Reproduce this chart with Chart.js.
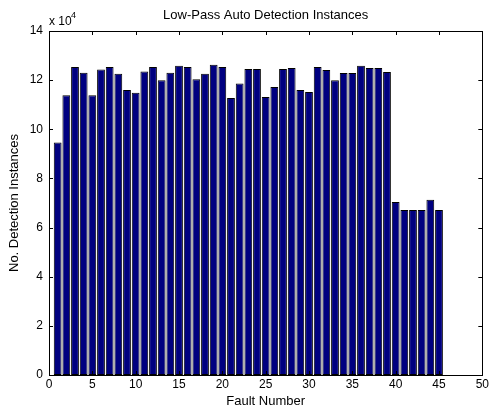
<!DOCTYPE html>
<html>
<head>
<meta charset="utf-8">
<script src="https://cdn.jsdelivr.net/npm/chart.js@4.4.0/dist/chart.umd.min.js"></script>
<style>
  html, body { margin:0; padding:0; background:#fff; }
  #wrap { width:491px; height:412px; position:relative; }
</style>
</head>
<body>
<div id="wrap"><canvas id="chart" width="491" height="412"></canvas></div>
<script>
// ─── Low-Pass Auto Detection Instances ───────────────────────────────────────
const FAULTS = [];
for (let i = 1; i <= 45; i++) FAULTS.push(i);

// detection instances (axis shows x 10^4)
const INSTANCES = [
  94600, 113900, 125300, 123000, 113900, 124300, 125300, 122600, 116000, 114900,
  123500, 125300, 120000, 123000, 125900, 125300, 120400, 122600, 126300, 125300,
  112700, 118600, 124500, 124500, 113100, 117200, 124500, 124900, 116000, 115200,
  125300, 124100, 120000, 122900, 122900, 125900, 124900, 124900, 123300, 70400,
  67200, 67200, 67200, 71300, 67200
];

const X_TICKS = [0, 5, 10, 15, 20, 25, 30, 35, 40, 45, 50];
const Y_TICKS = [0, 2, 4, 6, 8, 10, 12, 14];
const Y_SCALE = 1e4;

const FONT = 'Liberation Sans, Arial, sans-serif';
const TICK_LEN = 4;

// ── axes box, inward ticks, title, exponent ─────────────────────────────────
const matlabAxes = {
  id: 'matlabAxes',
  afterDatasetsDraw(chart) {
    const { ctx, chartArea: a, scales: { x, y } } = chart;
    ctx.save();
    ctx.strokeStyle = '#000';
    ctx.lineWidth = 1;
    ctx.beginPath();
    X_TICKS.forEach(t => {
      const px = Math.round(x.getPixelForValue(t)) + 0.5;
      ctx.moveTo(px, a.bottom); ctx.lineTo(px, a.bottom - TICK_LEN);
      ctx.moveTo(px, a.top);    ctx.lineTo(px, a.top + TICK_LEN);
    });
    Y_TICKS.forEach(t => {
      const py = Math.round(y.getPixelForValue(t * Y_SCALE)) + 0.5;
      ctx.moveTo(a.left, py);  ctx.lineTo(a.left + TICK_LEN, py);
      ctx.moveTo(a.right, py); ctx.lineTo(a.right - TICK_LEN, py);
    });
    ctx.stroke();
    ctx.strokeRect(Math.round(a.left) + 0.5, Math.round(a.top) + 0.5,
                   Math.round(a.right - a.left), Math.round(a.bottom - a.top));

    ctx.fillStyle = '#000';
    ctx.font = '13px ' + FONT;
    ctx.textAlign = 'center';
    ctx.textBaseline = 'alphabetic';
    ctx.fillText('Low-Pass Auto Detection Instances', (a.left + a.right) / 2, 19);

    ctx.textAlign = 'left';
    ctx.font = '12px ' + FONT;
    ctx.fillText('x 10', a.left, 25);
    ctx.font = '9px ' + FONT;
    ctx.fillText('4', a.left + 22, 18);
    ctx.restore();
  }
};

new Chart(document.getElementById('chart'), {
  type: 'bar',
  data: {
    datasets: [{
      data: FAULTS.map((f, i) => ({ x: f, y: INSTANCES[i] })),
      backgroundColor: '#000080',
      borderColor: '#000',
      borderWidth: 1,
      borderSkipped: false,
      barPercentage: 0.9,
      categoryPercentage: 1.0
    }]
  },
  options: {
    responsive: false,
    animation: false,
    layout: { padding: { top: 31, right: 7, left: 0, bottom: 0 } },
    plugins: { legend: { display: false }, title: { display: false }, tooltip: { enabled: false } },
    scales: {
      x: {
        type: 'linear', min: 0, max: 50, offset: false,
        afterBuildTicks: s => { s.ticks = X_TICKS.map(v => ({ value: v })); },
        afterFit: s => { s.height = 37; },
        grid: { display: false, drawTicks: false },
        border: { display: false },
        ticks: { color: '#000', font: { family: FONT, size: 12 }, padding: 2, maxRotation: 0 },
        title: { display: true, text: 'Fault Number', color: '#000',
                 font: { family: FONT, size: 13 }, padding: { top: 0, bottom: 3 } }
      },
      y: {
        min: 0, max: 14 * Y_SCALE,
        afterBuildTicks: s => { s.ticks = Y_TICKS.map(v => ({ value: v * Y_SCALE })); },
        afterFit: s => { s.width = 49; },
        grid: { display: false, drawTicks: false },
        border: { display: false },
        ticks: { color: '#000', font: { family: FONT, size: 12 }, padding: 6,
                 callback: v => String(v / Y_SCALE) },
        title: { display: true, text: 'No. Detection Instances', color: '#000',
                 font: { family: FONT, size: 13 }, padding: { top: 7, bottom: 0 } }
      }
    }
  },
  plugins: [matlabAxes]
});
</script>
</body>
</html>
